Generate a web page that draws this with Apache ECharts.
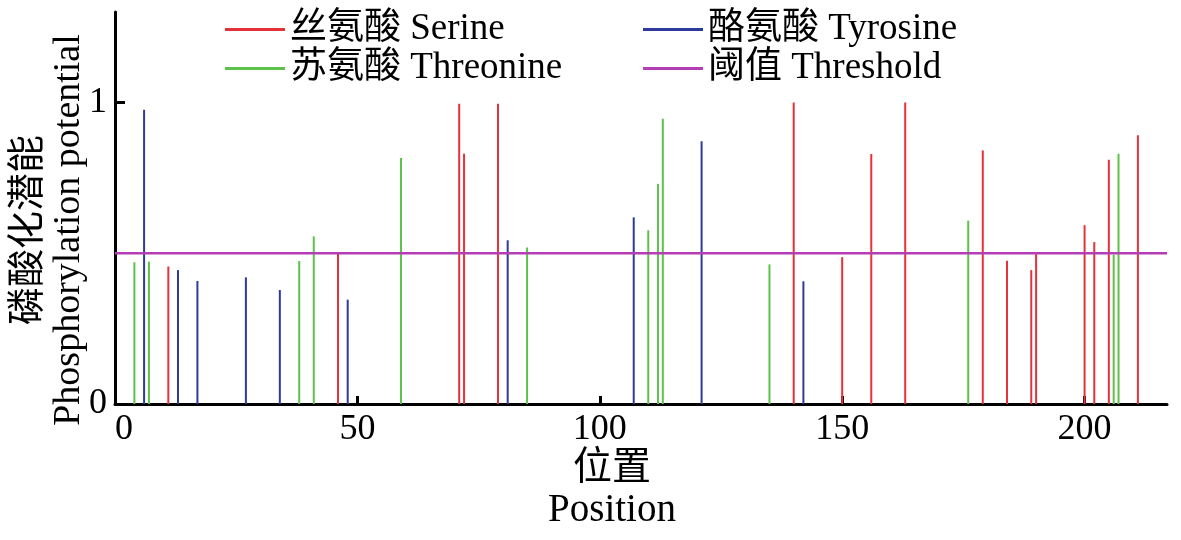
<!DOCTYPE html>
<html>
<head>
<meta charset="utf-8">
<script src="https://cdn.jsdelivr.net/npm/echarts@6/dist/echarts.min.js"></script>
<style>
  html, body { margin: 0; padding: 0; background: #fff; }
  #char1 { width: 1181px; height: 540px; }
</style>
</head>
<body>
<div id="char1"></div>
<script>
// 位置 / 磷酸化潜能
var serine = [[11,0.456],[46,0.498],[71,0.996],[72,0.83],[79,0.996],[140,1.0],[150,0.487],[156,0.829],[163,1.0],[179,0.841],[184,0.475],[189,0.444],[190,0.497],[200,0.593],[202,0.537],[205,0.81],[211,0.891]];
var threonine = [[4,0.47],[7,0.472],[38,0.474],[41,0.556],[59,0.816],[85,0.519],[110,0.576],[112,0.73],[113,0.946],[135,0.463],[176,0.608],[206,0.495],[207,0.83]];
var tyrosine = [[6,0.976],[13,0.444],[17,0.408],[27,0.42],[34,0.378],[48,0.346],[81,0.543],[107,0.619],[121,0.871],[142,0.407]];
var threshold = [[0,0.5],[217,0.5]];
var names = ['丝氨酸 Serine', '苏氨酸 Threonine', '酪氨酸 Tyrosine', '阈值 Threshold'];
var xTicks = [0, 50, 100, 150, 200];
var yTicks = [0, 1];

var FONT = "'Liberation Serif', 'Noto Sans CJK SC', serif";

function char1() {
    var myChart = echarts.init(document.getElementById('char1'));

    function leg(name, left, top) {
        return {
            data: [name], left: left, top: top,
            icon: 'rect', itemWidth: 60, itemHeight: 3,
            textStyle: { color: '#000', fontSize: 37, fontFamily: FONT }
        };
    }

    function stem(name, color, data) {
        return {
            name: name, type: 'bar', data: data,
            barWidth: 2, barGap: '-100%',
            itemStyle: { color: color },
            silent: true
        };
    }

    var option = {
        animation: false,
        color: ['#e5323a', '#5cc24a', '#2e3a9e', '#b43fb4'],
        legend: [
            leg(names[0], 220, 6),
            leg(names[1], 220, 45),
            leg(names[2], 638, 6),
            leg(names[3], 638, 45)
        ],
        grid: { left: 115, right: 14, top: 12, bottom: 136, outerBoundsMode: 'none' },
        xAxis: {
            type: 'value', min: 0, max: 217,
            name: '位置\nPosition', nameLocation: 'middle', nameGap: 44, nameMoveOverlap: false,
            nameTextStyle: { color: '#000', fontSize: 39, fontFamily: FONT, lineHeight: 42, padding: [0, 58, 0, 0] },
            axisLine: { show: true, lineStyle: { color: '#000', width: 3 } },
            axisTick: { show: true, inside: true, length: 8, lineStyle: { width: 3 }, customValues: xTicks },
            axisLabel: { color: '#000', fontSize: 36, fontFamily: FONT, margin: 8, customValues: xTicks, alignMinLabel: 'left' },
            splitLine: { show: false }
        },
        yAxis: {
            type: 'value', min: 0, max: 1.3,
            name: '磷酸化潜能\nPhosphorylation potential', nameLocation: 'middle', nameGap: 26, nameRotate: 90, nameMoveOverlap: false,
            nameTextStyle: { color: '#000', fontSize: 38, fontFamily: FONT, lineHeight: 40, padding: [0, 44, 0, 0] },
            axisLine: { show: true, lineStyle: { color: '#000', width: 3 } },
            axisTick: { show: true, inside: true, length: 10, lineStyle: { width: 3 }, customValues: yTicks },
            axisLabel: { color: '#000', fontSize: 36, fontFamily: FONT, margin: 8, customValues: yTicks },
            splitLine: { show: false }
        },
        series: [
            stem(names[0], '#e5323a', serine),
            stem(names[1], '#5cc24a', threonine),
            stem(names[2], '#2e3a9e', tyrosine),
            {
                name: names[3], type: 'line', data: threshold,
                showSymbol: false, silent: true,
                lineStyle: { color: '#b43fb4', width: 2.5 },
                itemStyle: { color: '#b43fb4' },
                z: 3
            }
        ]
    };

    myChart.setOption(option);
    window.addEventListener('resize', function () { myChart.resize(); });
}

char1();
</script>
</body>
</html>
